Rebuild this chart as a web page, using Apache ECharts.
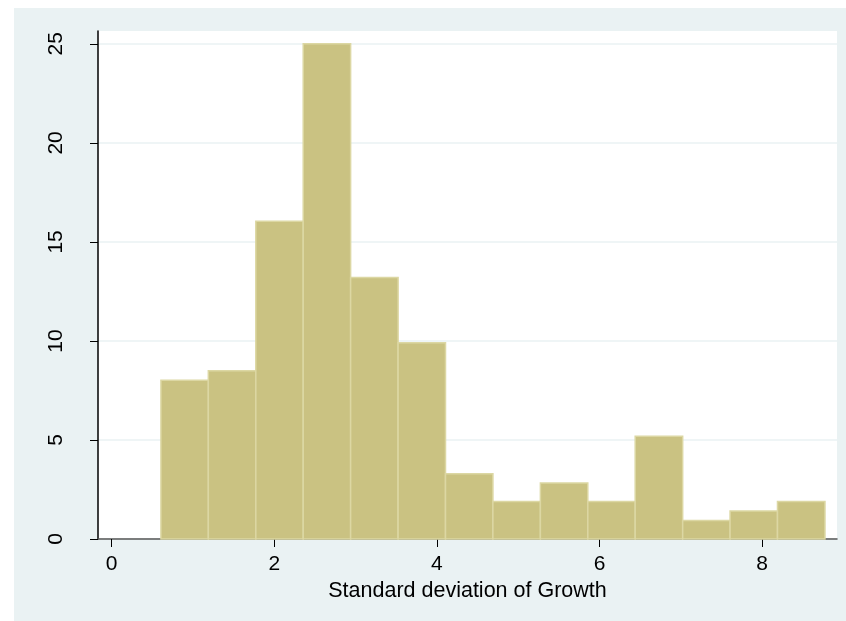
<!DOCTYPE html>
<html>
<head>
<meta charset="utf-8">
<script src="https://cdn.jsdelivr.net/npm/echarts@6/dist/echarts.min.js"></script>
<style>
  html, body { margin: 0; padding: 0; background: #ffffff; width: 846px; height: 621px; overflow: hidden; }
  #chart { position: absolute; left: 14px; top: 8px; width: 832px; height: 613px; background: #EAF2F3; }
</style>
</head>
<body>
<div id="chart"></div>
<script>
// Histogram bin edges (Standard deviation of Growth)
const binEdges = [0.606, 1.189, 1.773, 2.356, 2.939, 3.523, 4.106, 4.689, 5.273, 5.856, 6.439, 7.023, 7.606, 8.189, 8.773];
// Percent per bin
const percents = [8.02, 8.49, 16.04, 25.00, 13.21, 9.91, 3.30, 1.89, 2.83, 1.89, 5.19, 0.94, 1.42, 1.89];
// Tick labels
const xTicks = [0, 2, 4, 6, 8];
const yTicks = [0, 5, 10, 15, 20, 25];
const xTitle = 'Standard deviation of Growth';

const barData = percents.map((p, i) => [binEdges[i], binEdges[i + 1], p]);

const chart = echarts.init(document.getElementById('chart'), null, { renderer: 'canvas' });
const font = '"Liberation Sans", Arial, sans-serif';

chart.setOption({
  animation: false,
  backgroundColor: 'transparent',
  grid: {
    left: 84, top: 23, right: 9, bottom: 82,
    show: true, backgroundColor: '#ffffff', borderWidth: 0
  },
  xAxis: {
    type: 'value',
    min: -0.168, max: 8.921,
    name: xTitle,
    nameLocation: 'middle',
    nameGap: 35,
    nameTextStyle: { fontFamily: font, fontSize: 21.5, color: '#000' },
    axisLine: { show: true, onZero: false, lineStyle: { color: '#555', width: 1.5 } },
    axisTick: { show: true, length: 8, customValues: xTicks, lineStyle: { color: '#000', width: 1 } },
    axisLabel: { customValues: xTicks, margin: 15, fontFamily: font, fontSize: 21, color: '#000' },
    splitLine: { show: false }
  },
  yAxis: {
    type: 'value',
    min: 0, max: 25.65,
    axisLine: { show: true, onZero: false, lineStyle: { color: '#000', width: 1.5 } },
    axisTick: { show: true, length: 8, customValues: yTicks, lineStyle: { color: '#000', width: 1 } },
    axisLabel: { customValues: yTicks, rotate: 90, margin: 31, fontFamily: font, fontSize: 21, color: '#000' },
    splitLine: { show: true, lineStyle: { color: '#EAF2F3', width: 1.5 } }
  },
  series: [{
    type: 'custom',
    data: barData,
    encode: { x: [0, 1], y: 2 },
    renderItem: function (params, api) {
      const x0 = api.value(0), x1 = api.value(1), h = api.value(2);
      const p0 = api.coord([x0, h]);
      const p1 = api.coord([x1, 0]);
      return {
        type: 'rect',
        shape: { x: p0[0], y: p0[1], width: p1[0] - p0[0], height: p1[1] - p0[1] },
        style: { fill: '#CAC282', stroke: '#DCD7A3', lineWidth: 1.5 }
      };
    }
  }]
});
</script>
</body>
</html>
